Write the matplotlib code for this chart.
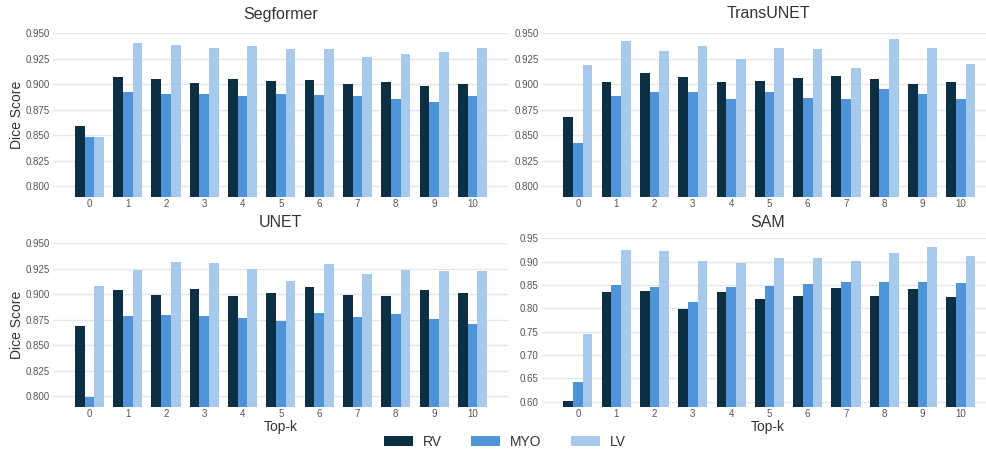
import matplotlib
matplotlib.use("Agg")
import matplotlib.pyplot as plt
from matplotlib.patches import Patch
import numpy as np

plt.rcParams["font.family"] = ["Liberation Sans", "DejaVu Sans"]

topk = list(range(11))
tick_labels = [str(k) for k in topk]
series_names = ["RV", "MYO", "LV"]
colors = ["#0c2f44", "#4f94d8", "#a6c9ec"]

segformer_rv = [0.859, 0.907, 0.905, 0.901, 0.905, 0.903, 0.904, 0.900, 0.902, 0.898, 0.900]
segformer_myo = [0.848, 0.892, 0.890, 0.890, 0.888, 0.890, 0.889, 0.888, 0.885, 0.883, 0.888]
segformer_lv = [0.848, 0.940, 0.939, 0.936, 0.938, 0.935, 0.935, 0.927, 0.930, 0.932, 0.936]

transunet_rv = [0.868, 0.902, 0.911, 0.907, 0.902, 0.903, 0.906, 0.908, 0.905, 0.900, 0.902]
transunet_myo = [0.842, 0.888, 0.892, 0.892, 0.885, 0.892, 0.886, 0.885, 0.895, 0.890, 0.885]
transunet_lv = [0.919, 0.942, 0.933, 0.938, 0.925, 0.936, 0.935, 0.916, 0.944, 0.936, 0.920]

unet_rv = [0.869, 0.904, 0.899, 0.905, 0.898, 0.901, 0.907, 0.899, 0.898, 0.904, 0.901]
unet_myo = [0.799, 0.879, 0.880, 0.879, 0.877, 0.874, 0.882, 0.878, 0.881, 0.876, 0.871]
unet_lv = [0.908, 0.924, 0.932, 0.931, 0.925, 0.913, 0.930, 0.920, 0.924, 0.923, 0.923]

sam_rv = [0.601, 0.835, 0.837, 0.798, 0.835, 0.820, 0.826, 0.843, 0.826, 0.841, 0.824]
sam_myo = [0.642, 0.850, 0.846, 0.813, 0.846, 0.848, 0.852, 0.856, 0.856, 0.856, 0.854]
sam_lv = [0.745, 0.925, 0.923, 0.901, 0.897, 0.908, 0.908, 0.901, 0.918, 0.931, 0.912]

W, H = 986, 454
fig = plt.figure(figsize=(W / 100, H / 100), dpi=100)
fig.patch.set_facecolor("white")


def px_axes(left, right, top, bottom):
    return fig.add_axes([left / W, 1 - bottom / H, (right - left) / W, (bottom - top) / H])


panels = [
    # name, series, (left, right, top, bottom) in px, ylim, yticks, fmt, ylabel, xlabel, title y
    ("Segformer", (segformer_rv, segformer_myo, segformer_lv), (53, 508, 32.8, 196.7),
     (0.7895, 0.9505), np.arange(0.800, 0.951, 0.025), "{:.3f}", True, False, 14),
    ("TransUNET", (transunet_rv, transunet_myo, transunet_lv), (541.5, 996.5, 32.8, 196.7),
     (0.7895, 0.9505), np.arange(0.800, 0.951, 0.025), "{:.3f}", False, False, 14),
    ("UNET", (unet_rv, unet_myo, unet_lv), (53, 508, 242.8, 406.7),
     (0.7895, 0.9505), np.arange(0.800, 0.951, 0.025), "{:.3f}", True, True, 223),
    ("SAM", (sam_rv, sam_myo, sam_lv), (541.5, 996.5, 237.8, 406.7),
     (0.589, 0.951), np.arange(0.60, 0.951, 0.05), "{:.2f}", False, True, 223),
]

x = np.arange(len(topk))
bw = 0.253
for name, series, (l, r, t, b), ylim, yticks, fmt, ylab, xlab, ty in panels:
    ax = px_axes(l, r, t, b)
    for i, (vals, c) in enumerate(zip(series, colors)):
        ax.bar(x + (i - 1) * bw, vals, width=bw, color=c, linewidth=0, zorder=2)
    ax.set_xlim(-0.95, 10.93)
    ax.set_ylim(*ylim)
    ax.set_yticks(yticks)
    ax.set_yticklabels([fmt.format(v) for v in yticks])
    ax.set_xticks(x)
    ax.set_xticklabels(tick_labels)
    ax.tick_params(axis="both", length=0, labelsize=7, labelcolor="#555555")
    ax.tick_params(axis="x", pad=2)
    ax.tick_params(axis="y", pad=2)
    ax.grid(axis="y", color="#e6e6e6", linewidth=1.0, zorder=0)
    ax.set_axisbelow(True)
    for s in ax.spines.values():
        s.set_visible(False)
    cx = (l + r) / 2
    if name in ("TransUNET", "SAM"):
        cx = 768
    fig.text(cx / W, 1 - ty / H, name, ha="center", va="center",
             fontsize=11.5, color="#333333")
    if ylab:
        fig.text(17 / W, 1 - ((t + b) / 2) / H, "Dice Score", rotation=90,
                 ha="center", va="center", fontsize=10, color="#333333")
    if xlab:
        fig.text(cx / W, 1 - 427 / H, "Top-k", ha="center", va="center",
                 fontsize=10, color="#333333")

handles = [Patch(facecolor=c, edgecolor="none", label=n) for n, c in zip(series_names, colors)]
fig.legend(handles=handles, loc="center", bbox_to_anchor=(505 / W, 1 - 442 / H),
           ncol=3, frameon=False, fontsize=10, handlelength=2.1, handleheight=0.8,
           handletextpad=0.72, columnspacing=2.1, labelcolor="#333333")

fig.savefig("out.png", dpi=100, facecolor="white")
